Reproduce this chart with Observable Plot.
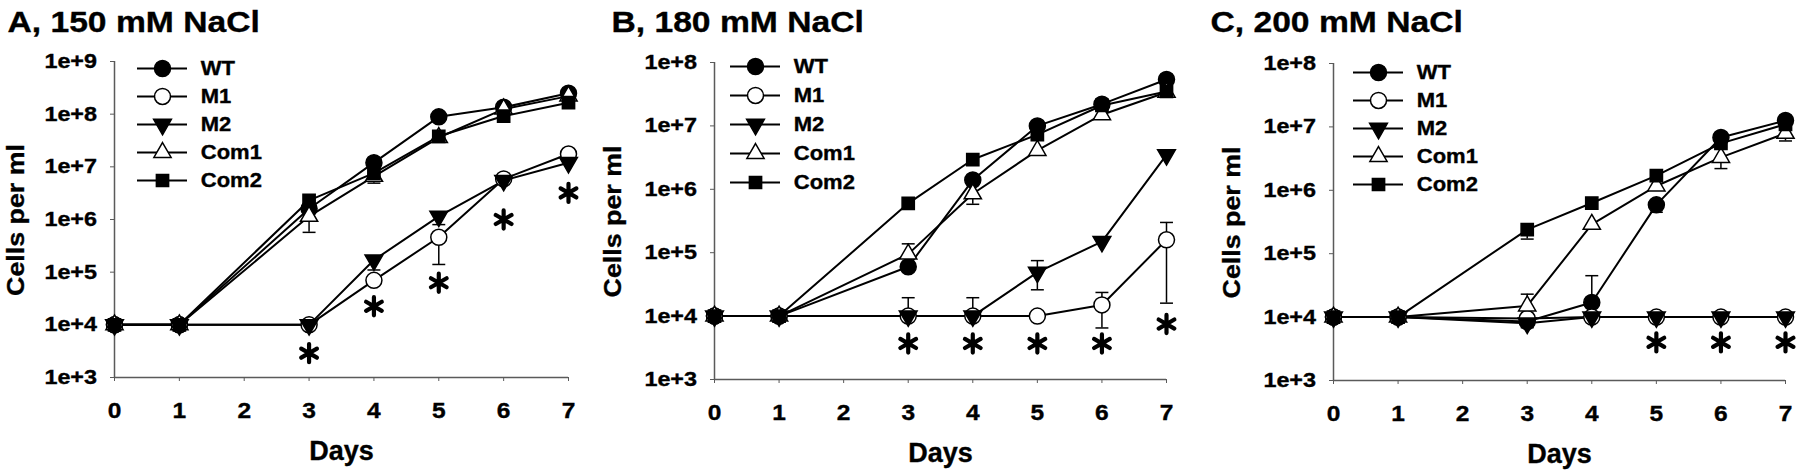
<!DOCTYPE html>
<html><head><meta charset="utf-8">
<script src="https://cdn.jsdelivr.net/npm/d3@7"></script>
<script src="https://cdn.jsdelivr.net/npm/@observablehq/plot@0.6"></script>
<style>
body{margin:0;background:#fff;}
#wrap{position:relative;width:1800px;height:474px;overflow:hidden;background:#fff;}
.panel{position:absolute;top:0;width:600px;height:474px;}
</style></head><body><div id="wrap"></div>
<script>
// ---------- data ----------
const days = [0, 1, 3, 4, 5, 6, 7];
const seriesNames = ["WT", "M1", "M2", "Com1", "Com2"];
const xTicks = [0, 1, 2, 3, 4, 5, 6, 7];
const xTickLabels = ["0", "1", "2", "3", "4", "5", "6", "7"];

// Panel A, 150 mM NaCl
const aWT   = [1e4, 1e4, 1.6e6, 1.2e7, 8.9e7, 1.35e8, 2.5e8];
const aM1   = [1e4, 1e4, 1e4, 7.0e4, 4.6e5, 5.9e6, 1.75e7];
const aM2   = [1e4, 1e4, 1e4, 1.7e5, 1.15e6, 5.5e6, 1.2e7];
const aCom1 = [1e4, 1e4, 1.15e6, 6.6e6, 3.6e7, 1.25e8, 2.2e8];
const aCom2 = [1e4, 1e4, 2.3e6, 7.6e6, 3.8e7, 9.2e7, 1.65e8];
// error bars: [series, day, lower, upper]
const aErr = [["Com1", 3, 5.7e5, null], ["Com1", 4, 4.9e6, null], ["M2", 4, 1.1e5, null],
              ["M1", 5, 1.4e5, null], ["M2", 5, 8.0e5, null]];
const aStarDays = [3, 4, 5, 6, 7];
const aStarVals = [2.9e3, 2.25e4, 6.3e4, 1.0e6, 3.2e6];
const aYTicks = [1e3, 1e4, 1e5, 1e6, 1e7, 1e8, 1e9];
const aYTickLabels = ["1e+3", "1e+4", "1e+5", "1e+6", "1e+7", "1e+8", "1e+9"];

// Panel B, 180 mM NaCl
const bWT   = [1e4, 1e4, 6.0e4, 1.4e6, 1.0e7, 2.2e7, 5.4e7];
const bM1   = [1e4, 1e4, 1e4, 1e4, 1e4, 1.5e4, 1.6e5];
const bM2   = [1e4, 1e4, 1e4, 1e4, 4.9e4, 1.5e5, 3.5e6];
const bCom1 = [1e4, 1e4, 9.5e4, 8.5e5, 4.1e6, 1.5e7, 3.4e7];
const bCom2 = [1e4, 1e4, 6.0e5, 2.95e6, 7.3e6, 2.1e7, 3.5e7];
const bErr = [["Com1", 3, null, 1.38e5], ["Com1", 4, 5.8e5, null], ["M1", 3, null, 1.95e4],
              ["M1", 4, null, 1.95e4], ["M2", 5, 2.6e4, 7.5e4], ["M1", 6, 6.5e3, 2.36e4],
              ["M1", 7, 1.6e4, 3.0e5]];
const bStarDays = [3, 4, 5, 6, 7];
const bStarVals = [3.7e3, 3.7e3, 3.7e3, 3.7e3, 7.5e3];
const bYTicks = [1e3, 1e4, 1e5, 1e6, 1e7, 1e8];
const bYTickLabels = ["1e+3", "1e+4", "1e+5", "1e+6", "1e+7", "1e+8"];

// Panel C, 200 mM NaCl
const cWT   = [1e4, 1e4, 8.5e3, 1.7e4, 5.9e5, 6.8e6, 1.26e7];
const cM1   = [1e4, 1e4, 9.5e3, 1e4, 1e4, 1e4, 1e4];
const cM2   = [1e4, 1e4, 8.0e3, 1e4, 1e4, 1e4, 1e4];
const cCom1 = [1e4, 1e4, 1.5e4, 2.9e5, 1.17e6, 3.3e6, 7.9e6];
const cCom2 = [1e4, 1e4, 2.4e5, 6.3e5, 1.7e6, 5.5e6, 1.1e7];
const cErr = [["Com2", 3, 1.7e5, null], ["Com1", 3, null, 2.3e4], ["M2", 3, 6.8e3, null],
              ["WT", 4, null, 4.5e4], ["WT", 5, 4.5e5, null], ["Com1", 6, 2.2e6, null],
              ["Com1", 7, 6.0e6, null]];
const cStarDays = [5, 6, 7];
const cStarVals = [4.0e3, 4.0e3, 4.0e3];
const cYTicks = [1e3, 1e4, 1e5, 1e6, 1e7, 1e8];
const cYTickLabels = ["1e+3", "1e+4", "1e+5", "1e+6", "1e+7", "1e+8"];

// ---------- styling / layout ----------
const FONT = '"Liberation Sans", Arial, sans-serif';
const AXIS = "#5a5a5a";
const triDown = {draw(ctx, size) {
  const y = -Math.sqrt(size / (Math.sqrt(3) * 3));
  ctx.moveTo(0, -2 * y); ctx.lineTo(-Math.sqrt(3) * y, y); ctx.lineTo(Math.sqrt(3) * y, y); ctx.closePath();
}};
const capSym = {draw(ctx, size) {
  const w = Math.sqrt(size) / 2; ctx.moveTo(-w, 0); ctx.lineTo(w, 0);
}};
const markerStyle = {
  WT:   {symbol: "circle", fill: "black", r: 8},
  M1:   {symbol: "circle", fill: "white", r: 8},
  M2:   {symbol: triDown,  fill: "black", r: 6.6},
  Com1: {symbol: "triangle", fill: "white", r: 6.4},
  Com2: {symbol: "square", fill: "black", r: 6.9}
};

const panels = [
  {title: "A, 150 mM NaCl", vals: {WT: aWT, M1: aM1, M2: aM2, Com1: aCom1, Com2: aCom2}, err: aErr,
   starDays: aStarDays, starVals: aStarVals, yTicks: aYTicks, yLabels: aYTickLabels,
   L: {left: 0, mL: 114, mR: 32, mT: 61, mB: 97, titleX: 7, ylabX: 7, legX: 136.7, legY: 67.7, legGap: 28.1, legText: 13.3}},
  {title: "B, 180 mM NaCl", vals: {WT: bWT, M1: bM1, M2: bM2, Com1: bCom1, Com2: bCom2}, err: bErr,
   starDays: bStarDays, starVals: bStarVals, yTicks: bYTicks, yLabels: bYTickLabels,
   L: {left: 600, mL: 114, mR: 34, mT: 62, mB: 95, titleX: 11, ylabX: 4, legX: 130, legY: 65, legGap: 29.6, legText: 13.3}},
  {title: "C, 200 mM NaCl", vals: {WT: cWT, M1: cM1, M2: cM2, Com1: cCom1, Com2: cCom2}, err: cErr,
   starDays: cStarDays, starVals: cStarVals, yTicks: cYTicks, yLabels: cYTickLabels,
   L: {left: 1200, mL: 133, mR: 15, mT: 63, mB: 94, titleX: 10, ylabX: 23, legX: 153.3, legY: 70, legGap: 28.9, legText: 13.3}}
];

// widen glyphs horizontally along the text direction (reference text is a stretched Arial Bold)
function stretchText(svg, factor, skip) {
  svg.querySelectorAll("text").forEach(t => {
    t.setAttribute("stroke", "black");
    t.setAttribute("stroke-width", "0.35");
    if (skip && skip.includes(t.textContent)) return;
    const tr = t.getAttribute("transform");
    if (tr) {
      t.setAttribute("transform", tr + ` scale(${factor},1)`);
    } else {
      const x = parseFloat(t.getAttribute("x")) || 0;
      t.setAttribute("transform", `translate(${x},0) scale(${factor},1) translate(${-x},0)`);
    }
  });
}

const wrap = document.getElementById("wrap");
const xLabelMap = new Map(xTicks.map((t, i) => [t, xTickLabels[i]]));

for (const p of panels) {
  const L = p.L;
  const div = document.createElement("div");
  div.className = "panel";
  div.style.left = L.left + "px";
  wrap.appendChild(div);

  const rows = seriesNames.flatMap(s => days.map((d, i) => ({series: s, day: d, value: p.vals[s][i]})));
  const valOf = (s, d) => p.vals[s][days.indexOf(d)];
  const errRows = p.err.map(([s, d, lo, hi]) => ({series: s, day: d, value: valOf(s, d), lo, hi}));
  const caps = errRows.flatMap(e => [e.lo, e.hi].filter(v => v != null).map(v => ({day: e.day, v})));
  const stars = p.starDays.map((d, i) => ({day: d, v: p.starVals[i]}));
  const yMap = new Map(p.yTicks.map((t, i) => [t, p.yLabels[i]]));
  const H = 474;

  const marks = [
    Plot.ruleX([0], {stroke: AXIS, strokeWidth: 1.5}),
    Plot.ruleY([p.yTicks[0]], {stroke: AXIS, strokeWidth: 1.5}),
    Plot.axisX({ticks: xTicks, tickFormat: d => xLabelMap.get(d), tickSize: 4, tickPadding: 21,
                fontSize: 21.5, stroke: AXIS, fill: "black", label: null}),
    Plot.axisY({ticks: p.yTicks, tickFormat: d => yMap.get(d), tickSize: 4, tickPadding: 13.5,
                fontSize: 20.5, stroke: AXIS, fill: "black", label: null}),
    Plot.text(["Days"], {frameAnchor: "bottom", dy: 82, lineAnchor: "bottom", fontSize: 27, fill: "black"}),
    Plot.text(["Cells per ml"], {frameAnchor: "left", rotate: -90, dx: L.ylabX - L.mL, dy: 0.5,
                lineAnchor: "top", textAnchor: "middle", fontSize: 23.5, fill: "black"}),
    Plot.text([p.title], {frameAnchor: "top-left", textAnchor: "start", lineAnchor: "bottom",
                dx: L.titleX - L.mL, dy: 31 - L.mT, fontSize: 29.5, fill: "black"}),
    Plot.line(rows, {x: "day", y: "value", z: "series", stroke: "black", strokeWidth: 2}),
    Plot.ruleX(errRows, {x: "day", y1: d => d.lo ?? d.value, y2: d => d.hi ?? d.value, stroke: "black", strokeWidth: 1.5}),
    Plot.dot(caps, {x: "day", y: "v", symbol: capSym, r: 7.3, stroke: "black", strokeWidth: 1.5})
  ];
  for (const s of seriesNames) {
    const m = markerStyle[s];
    marks.push(Plot.dot(rows.filter(r => r.series === s), {x: "day", y: "value", symbol: m.symbol, r: m.r,
      fill: m.fill, stroke: "black", strokeWidth: 1.5}));
  }
  marks.push(Plot.dot(stars, {x: "day", y: "v", symbol: "asterisk", r: 8.6, stroke: "black",
    strokeWidth: 4.2, strokeLinecap: "round"}));

  const chart = Plot.plot({
    width: 600, height: H,
    marginLeft: L.mL, marginRight: L.mR, marginTop: L.mT, marginBottom: L.mB,
    x: {domain: [0, 7]},
    y: {type: "log", domain: [p.yTicks[0], p.yTicks[p.yTicks.length - 1]]},
    style: {fontFamily: FONT, fontWeight: "bold", position: "absolute", left: "0px", top: "0px",
            background: "white", maxWidth: "none"},
    marks
  });
  div.appendChild(chart);
  stretchText(chart, 1.14, ["Days"]);

  // legend
  const legH = 30 + 4 * L.legGap;
  const legendMarks = [
    Plot.ruleY(seriesNames, {y: d => d, x1: 0, x2: 1, stroke: "black", strokeWidth: 2})
  ];
  for (const s of seriesNames) {
    const m = markerStyle[s];
    legendMarks.push(Plot.dot([s], {x: 0.5, y: d => d, symbol: m.symbol, r: m.r, fill: m.fill,
      stroke: "black", strokeWidth: 1.5}));
  }
  legendMarks.push(Plot.text(seriesNames, {x: 1, y: d => d, dx: L.legText, textAnchor: "start",
    lineAnchor: "middle", fontSize: 20, fill: "black"}));
  const legend = Plot.plot({
    width: 200, height: legH, marginLeft: 10, marginRight: 140, marginTop: 15, marginBottom: 15,
    x: {domain: [0, 1], axis: null},
    y: {type: "point", domain: seriesNames, padding: 0, axis: null},
    style: {fontFamily: FONT, fontWeight: "bold", position: "absolute",
            left: (L.legX - 10) + "px", top: (L.legY - 15) + "px", background: "transparent", maxWidth: "none"},
    marks: legendMarks
  });
  div.appendChild(legend);
  stretchText(legend, 1.1);
}
</script></body></html>
